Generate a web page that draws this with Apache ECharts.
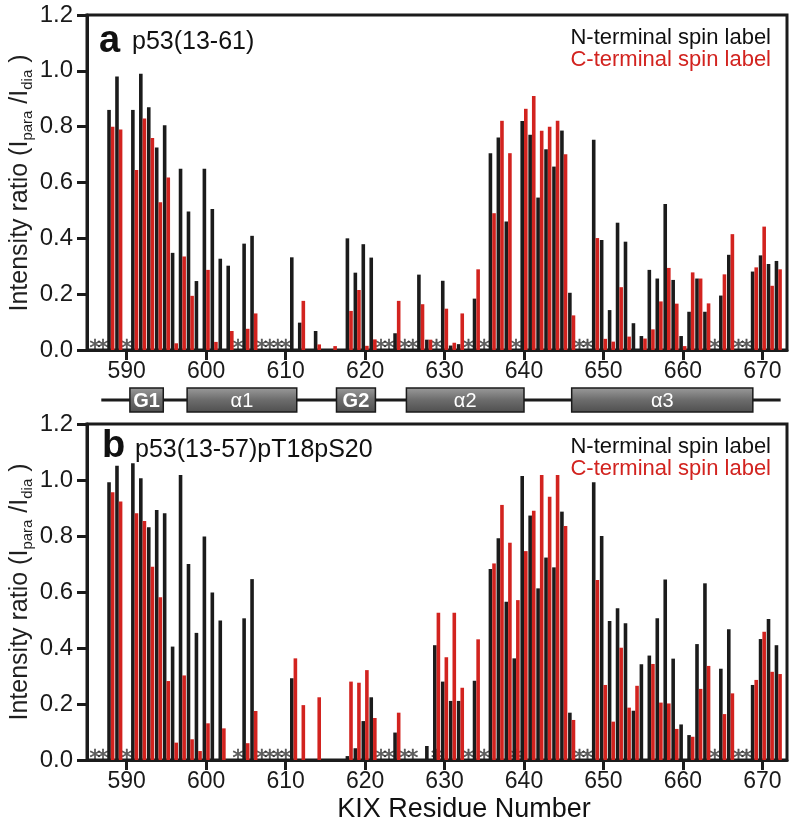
<!DOCTYPE html>
<html><head><meta charset="utf-8">
<script src="https://cdn.jsdelivr.net/npm/echarts@6/dist/echarts.min.js"></script>
<style>html,body{margin:0;padding:0;background:#fff}#c{width:798px;height:830px}</style>
</head><body><div id="c"></div>
<script>
// KIX residue numbers
const residues = [586,587,588,589,
590,591,592,593,594,595,596,597,598,599,
600,601,602,603,604,605,606,607,608,609,
610,611,612,613,614,615,616,617,618,619,
620,621,622,623,624,625,626,627,628,629,
630,631,632,633,634,635,636,637,638,639,
640,641,642,643,644,645,646,647,648,649,
650,651,652,653,654,655,656,657,658,659,
660,661,662,663,664,665,666,667,668,669,
670,671,672];

// Panel a: p53(13-61)
const aNterm = [null,null,0.86,0.98,
null,0.86,0.99,0.87,0.725,0.805,0.348,0.649,0.496,0.247,
0.649,0.505,0.327,0.302,null,0.381,0.409,null,null,null,
null,0.332,0.098,null,0.068,null,null,null,0.40,0.277,
0.379,0.331,null,null,0.06,null,null,0.27,0.037,null,
0.248,0.016,0.021,null,0.184,null,0.705,0.761,0.46,null,
0.82,0.771,0.546,0.719,0.657,0.786,0.205,null,null,0.753,
0.394,0.143,0.456,0.388,0.096,0.05,0.287,0.256,0.523,0.251,
0.05,0.137,0.256,0.137,null,0.195,0.341,null,null,0.281,
0.339,0.308,0.319];
const aCterm = [null,null,0.80,0.79,
null,0.645,0.829,0.759,0.529,0.618,0.024,0.335,0.194,null,
0.287,0.029,null,0.068,null,0.076,0.131,null,null,null,
null,null,0.176,null,0.02,null,0.014,null,0.14,0.215,
0.015,0.038,null,null,0.176,null,null,0.164,0.037,null,
0.148,0.026,0.131,null,0.289,null,0.49,0.821,0.705,null,
0.864,0.91,0.785,0.80,0.821,0.701,0.124,null,null,0.401,
0.04,0.03,0.225,0.048,null,0.041,0.074,0.174,0.294,0.166,
0.014,0.278,0.256,0.167,null,0.271,0.415,null,null,0.296,
0.442,0.23,0.289];

// Panel b: p53(13-57)pT18pS20
const bNterm = [null,null,0.992,1.051,
null,1.06,1.006,0.831,0.893,0.881,0.405,1.018,0.70,0.454,
0.798,0.598,0.498,null,null,0.506,0.646,null,null,null,
null,0.292,null,null,null,null,null,null,0.014,0.042,
0.139,0.224,null,null,0.098,null,null,null,0.05,0.41,
0.28,0.211,0.211,null,0.283,null,0.682,0.792,0.565,0.363,
1.014,0.873,0.613,0.723,0.688,0.887,0.169,null,null,0.992,
0.80,0.496,0.542,0.488,0.176,0.342,0.373,0.506,0.645,0.362,
0.127,0.089,0.414,0.631,null,0.326,0.467,null,null,0.268,
0.432,0.504,0.41];
const bCterm = [null,null,0.956,0.923,
null,0.881,0.854,0.69,0.581,0.282,0.062,0.302,0.074,0.032,
0.131,null,0.113,null,null,0.06,0.175,null,null,null,
null,0.363,0.196,null,0.224,null,null,null,0.28,0.276,
0.321,0.15,null,null,0.169,null,null,null,null,0.526,
0.367,0.526,0.258,null,0.431,null,0.702,0.911,0.776,0.571,
0.746,0.89,1.018,0.94,1.018,0.836,0.143,null,null,0.643,
0.268,0.137,0.401,0.187,0.265,null,0.343,0.205,0.202,0.111,
null,0.083,0.254,0.336,null,0.164,0.238,null,null,0.286,
0.458,0.315,0.307];

// residues marked with an asterisk
const starsA = [586,587,590,604,607,608,609,610,622,623,625,626,629,633,635,639,647,648,664,667,668];
const starsB = [586,587,590,604,607,608,609,610,622,623,625,626,629,633,635,639,647,648,664,667,668];

const xTicks = [590,600,610,620,630,640,650,660,670];
const yTicks = [0,0.2,0.4,0.6,0.8,1.0,1.2];

// secondary structure elements (start, end residue)
const structNames = ['G1','\u03b11','G2','\u03b12','\u03b13'];
const structStart = [590.4,597.6,616.4,625.2,646.0];
const structEnd   = [594.6,611.4,621.3,640.0,668.8];
const backbone = [586.8,672.3];

const FONT = '"Liberation Sans", Arial, sans-serif';
const BLACK = '#1b1b1b', RED = '#d2231f';

function pairs(vals){ const out=[]; residues.forEach((r,i)=>{ if(vals[i]!==null) out.push([r,vals[i]]); }); return out; }
function starData(list){ return list.map(r=>[r,0]); }

const chart = echarts.init(document.getElementById('c'), null, {renderer:'canvas'});

function xAx(grid, show){
  return {type:'value', gridIndex:grid, min:585, max:673.1, show:show,
    axisLine:{show:true,onZero:false,lineStyle:{color:BLACK,width:3}},
    axisTick:{show:true,length:10,lineStyle:{color:BLACK,width:3},customValues:xTicks},
    axisLabel:{show:true,fontSize:23,fontFamily:FONT,color:'#1a1a1a',margin:10,customValues:xTicks},
    splitLine:{show:false}};
}
function yAx(grid){
  return {type:'value', gridIndex:grid, min:0, max:1.2, interval:0.2,
    axisLine:{show:true,lineStyle:{color:BLACK,width:3}},
    axisTick:{show:true,length:10,lineStyle:{color:BLACK,width:3}},
    axisLabel:{fontSize:24,fontFamily:FONT,color:'#1a1a1a',margin:14,formatter:v=>v.toFixed(1)},
    splitLine:{show:false}};
}
function barS(xi, vals, color){
  return {type:'bar', xAxisIndex:xi, yAxisIndex:xi, data:pairs(vals), barWidth:3.6, barGap:'0%',
    itemStyle:{color:color}, z:3, silent:true, animation:false};
}
function starS(xi, list){
  return {type:'scatter', xAxisIndex:xi, yAxisIndex:xi, data:starData(list), symbolSize:1,
    itemStyle:{color:'transparent'}, z:1, silent:true, animation:false,
    label:{show:true, formatter:'*', position:'inside', fontSize:22, fontFamily:'"DejaVu Sans", sans-serif', color:'#3a3a3a',
      textBorderColor:'#111', textBorderWidth:0.5, offset:[0,-1]}};
}

const grad = new echarts.graphic.LinearGradient(0,0,0,1,[{offset:0,color:'#9c9c9c'},{offset:0.5,color:'#6c6c6c'},{offset:1,color:'#4e4e4e'}]);

const titleText = 'Intensity ratio (I{s|para} /I{s|dia} )';
function yTitle(cy){
  return {type:'text', rotation:Math.PI/2, x:20, y:cy,
    style:{text:titleText, fill:'#1f1f1f', font:'25px '+FONT, align:'center', verticalAlign:'middle',
      rich:{s:{fontSize:15, fontFamily:FONT, fill:'#1f1f1f', verticalAlign:'bottom', lineHeight:30}}}};
}

chart.setOption({
  animation:false,
  backgroundColor:'#fff',
  grid:[
    {left:87, top:15, width:700, height:335, show:true, borderColor:BLACK, borderWidth:3, backgroundColor:'transparent'},
    {left:87, top:424, width:700, height:336, show:true, borderColor:BLACK, borderWidth:3, backgroundColor:'transparent'},
    {left:87, top:388, width:700, height:24, show:false}
  ],
  xAxis:[xAx(0,true), xAx(1,true), {type:'value', gridIndex:2, min:585, max:673.1, show:false}],
  yAxis:[yAx(0), yAx(1), {type:'value', gridIndex:2, min:0, max:1, show:false}],
  series:[
    barS(0, aNterm, BLACK), barS(0, aCterm, RED), starS(0, starsA),
    barS(1, bNterm, BLACK), barS(1, bCterm, RED), starS(1, starsB),
    {type:'custom', xAxisIndex:2, yAxisIndex:2, data:[backbone], silent:true, z:1,
      renderItem:(p,api)=>{ const s=api.coord([api.value(0),0.5]); const e=api.coord([api.value(1),0.5]);
        return {type:'line', shape:{x1:s[0],y1:s[1],x2:e[0],y2:e[1]}, style:{stroke:BLACK,lineWidth:3}}; }},
    {type:'custom', xAxisIndex:2, yAxisIndex:2, data:structStart.map((s,i)=>[s,structEnd[i]]), silent:true, z:2,
      renderItem:(p,api)=>{ const a=api.coord([api.value(0),0]); const b=api.coord([api.value(1),1]);
        const nm=structNames[p.dataIndex]; const isG = nm[0]==='G';
        return {type:'group', children:[
          {type:'rect', shape:{x:a[0],y:b[1],width:b[0]-a[0],height:a[1]-b[1]}, style:{fill:grad, stroke:'#1a1a1a', lineWidth:1.5}},
          {type:'text', style:{text:nm, x:(a[0]+b[0])/2, y:(a[1]+b[1])/2+1, align:'center', verticalAlign:'middle', fill:'#ffffff',
            font:(isG?'bold 20px ':'20px ')+FONT}}
        ]}; }}
  ],
  graphic:[
    yTitle(183), yTitle(592),
    {type:'text', x:99, y:42, style:{text:'a', font:'bold 38px '+FONT, fill:'#111', verticalAlign:'middle'}},
    {type:'text', x:132, y:42, style:{text:'p53(13-61)', font:'25px '+FONT, fill:'#111', verticalAlign:'middle'}},
    {type:'text', x:102, y:447, style:{text:'b', font:'bold 38px '+FONT, fill:'#111', verticalAlign:'middle'}},
    {type:'text', x:135, y:450, style:{text:'p53(13-57)pT18pS20', font:'25px '+FONT, fill:'#111', verticalAlign:'middle'}},
    {type:'text', x:771, y:38, style:{text:'N-terminal spin label', font:'22px '+FONT, fill:'#111', align:'right', verticalAlign:'middle'}},
    {type:'text', x:771, y:60, style:{text:'C-terminal spin label', font:'22px '+FONT, fill:RED, align:'right', verticalAlign:'middle'}},
    {type:'text', x:771, y:447, style:{text:'N-terminal spin label', font:'22px '+FONT, fill:'#111', align:'right', verticalAlign:'middle'}},
    {type:'text', x:771, y:469, style:{text:'C-terminal spin label', font:'22px '+FONT, fill:RED, align:'right', verticalAlign:'middle'}},
    {type:'text', x:464, y:810, style:{text:'KIX Residue Number', font:'27px '+FONT, fill:'#111', align:'center', verticalAlign:'middle'}}
  ]
});
</script></body></html>
